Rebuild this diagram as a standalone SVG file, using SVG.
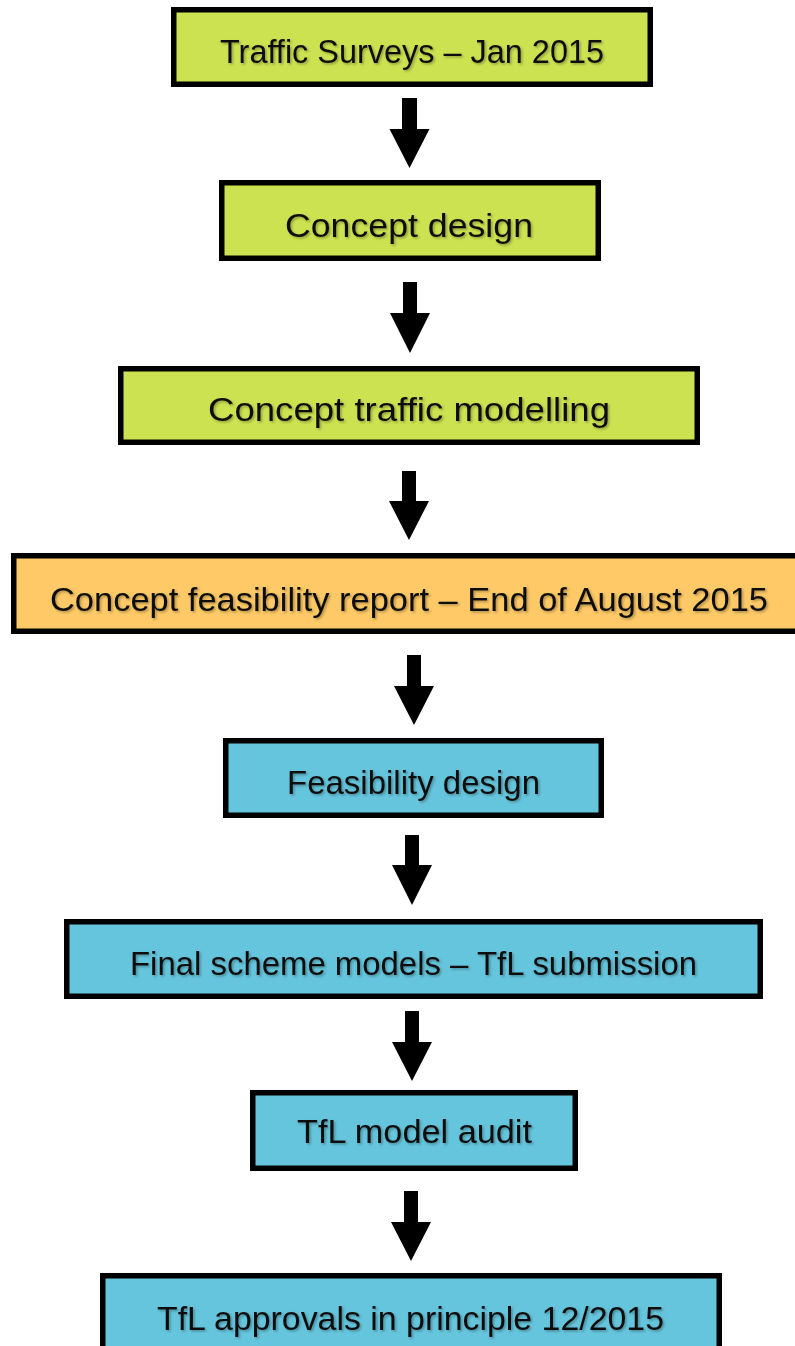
<svg xmlns="http://www.w3.org/2000/svg" width="795" height="1346" viewBox="0 0 795 1346">
  <defs>
    <filter id="txtShadow" x="-5%" y="-30%" width="110%" height="160%">
      <feDropShadow dx="1.5" dy="1.5" stdDeviation="1" flood-color="#000" flood-opacity="0.3"/>
    </filter>
  </defs>
  <style>
    .box { stroke: #000; stroke-width: 5.5; }
    .green { fill: #cde251; }
    .orange { fill: #fec966; }
    .blue { fill: #65c5dc; }
    .label { font-family: "Liberation Sans", Arial, sans-serif; font-size: 33px; fill: #111; text-anchor: middle; filter: url(#txtShadow); }
    .arrow { fill: #000; }
  </style>
  <rect width="795" height="1346" fill="#fff"/>

  <g id="connectors">
    <path class="arrow" d="M402,98 H417 V129 H429.5 L409.5,168 L389.5,129 H402 Z"/>
    <path class="arrow" d="M403,282 H417 V313 H430 L410,353 L390,313 H403 Z"/>
    <path class="arrow" d="M402,471 H416 V501 H429 L409,540 L389,501 H402 Z"/>
    <path class="arrow" d="M407,655 H421 V686 H434 L414,725 L394,686 H407 Z"/>
    <path class="arrow" d="M405,835 H419 V865 H432 L412,905 L392,865 H405 Z"/>
    <path class="arrow" d="M405,1011 H419 V1042 H432 L412,1081 L392,1042 H405 Z"/>
    <path class="arrow" d="M404,1191 H418 V1222 H431 L411,1261 L391,1222 H404 Z"/>
  </g>

  <g id="traffic-surveys">
    <rect class="box green" x="173.75" y="9.75" width="476.5" height="74.5"/>
    <text class="label" x="412" y="63" textLength="384" lengthAdjust="spacingAndGlyphs">Traffic Surveys – Jan 2015</text>
  </g>

  <g id="concept-design">
    <rect class="box green" x="221.75" y="182.75" width="376.5" height="75.5"/>
    <text class="label" x="409" y="237" textLength="248" lengthAdjust="spacingAndGlyphs">Concept design</text>
  </g>

  <g id="concept-traffic-modelling">
    <rect class="box green" x="120.75" y="368.75" width="576.5" height="73.5"/>
    <text class="label" x="409" y="421" textLength="402" lengthAdjust="spacingAndGlyphs">Concept traffic modelling</text>
  </g>

  <g id="concept-feasibility-report">
    <rect class="box orange" x="13.75" y="555.75" width="790" height="75.5"/>
    <text class="label" x="409" y="611" textLength="718" lengthAdjust="spacingAndGlyphs">Concept feasibility report – End of August 2015</text>
  </g>

  <g id="feasibility-design">
    <rect class="box blue" x="225.75" y="740.75" width="375.5" height="74.5"/>
    <text class="label" x="413.5" y="794" textLength="253" lengthAdjust="spacingAndGlyphs">Feasibility design</text>
  </g>

  <g id="final-scheme-models">
    <rect class="box blue" x="66.75" y="921.75" width="693.5" height="74.5"/>
    <text class="label" x="413.5" y="975" textLength="567" lengthAdjust="spacingAndGlyphs">Final scheme models – TfL submission</text>
  </g>

  <g id="tfl-model-audit">
    <rect class="box blue" x="252.75" y="1092.75" width="322.5" height="75.5"/>
    <text class="label" x="414.5" y="1143" textLength="235" lengthAdjust="spacingAndGlyphs">TfL model audit</text>
  </g>

  <g id="tfl-approvals">
    <rect class="box blue" x="102.75" y="1275.75" width="616.5" height="90"/>
    <text class="label" x="410.5" y="1330" textLength="507" lengthAdjust="spacingAndGlyphs">TfL approvals in principle 12/2015</text>
  </g>
</svg>
